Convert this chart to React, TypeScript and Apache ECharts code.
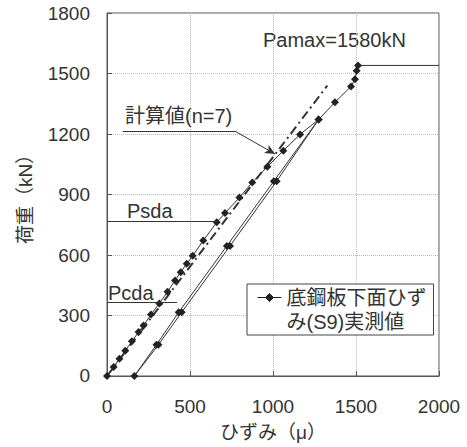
import React, { useEffect, useRef } from "react";
import * as echarts from "echarts";

// Measured strain (μ) vs load (kN) - loading, unloading, reloading, final
const loadStrain = [0, 40, 75, 110, 150, 190, 220, 265, 315, 365, 410, 444, 480, 516, 580, 661, 711, 798, 875, 966, 1062, 1163, 1275];
const loadLoad = [0, 45, 85, 125, 172, 218, 250, 305, 360, 418, 474, 515, 556, 596, 672, 762, 808, 885, 960, 1038, 1117, 1198, 1272];
const unloadStrain = [1275, 1022, 741, 450, 310, 165];
const unloadLoad = [1272, 966, 645, 316, 155, 0];
const reloadStrain = [165, 298, 432, 722, 1005, 1275];
const reloadLoad = [0, 155, 316, 645, 966, 1272];
const finalStrain = [1275, 1373, 1470, 1494, 1504, 1512];
const finalLoad = [1272, 1357, 1436, 1472, 1514, 1540];

// Pamax plateau
const plateauStrain = [1512, 2000];
const plateauLoad = [1540, 1540];

// Calculated value (n=7)
const calcStrain = [0, 1327];
const calcLoad = [0, 1440];

// Reference levels
const pcdaLevel = 368;
const pcdaEnd = 422;
const psdaLevel = 765;
const psdaEnd = 661;
const leaderStart = [96, 1214];
const leaderBend = [771, 1214];
const leaderTip = [1012, 1101];

const xTicks = [0, 500, 1000, 1500, 2000];
const yTicks = [0, 300, 600, 900, 1200, 1500, 1800];

const xAxisName = "ひずみ（μ）";
const yAxisName = "荷重（kN）";
const seriesName = "底鋼板下面ひずみ(S9)実測値";
const legendText = "底鋼板下面ひず\nみ(S9)実測値";

const FONT = "'Liberation Sans', 'Noto Sans CJK JP', sans-serif";
const TXT = "#333333";

function zip(a: number[], b: number[]) {
  return a.map((v, i) => [v, b[i]]);
}

export default function App() {
  const ref = useRef<HTMLDivElement>(null);
  useEffect(() => {
    if (!ref.current) return;
    const chart = echarts.init(ref.current, null, { renderer: "svg" });
    const measured = [
      ...zip(loadStrain, loadLoad),
      ...zip(unloadStrain, unloadLoad).slice(1),
      ...zip(reloadStrain, reloadLoad).slice(1),
      ...zip(finalStrain, finalLoad).slice(1),
    ];
    chart.setOption({
      animation: false,
      backgroundColor: "#fff",
      textStyle: { fontFamily: FONT, color: TXT },
      grid: {
        left: 107,
        right: 28,
        top: 13,
        bottom: 70,
        show: true,
        borderColor: "#555",
        borderWidth: 1,
      },
      xAxis: {
        type: "value",
        min: xTicks[0],
        max: xTicks[xTicks.length - 1],
        interval: 500,
        name: xAxisName,
        nameLocation: "middle",
        nameGap: 47,
        nameTextStyle: { fontSize: 19, color: TXT, fontFamily: FONT },
        axisLine: { lineStyle: { color: "#555" } },
        axisTick: { inside: true, length: 5, lineStyle: { color: "#555" } },
        axisLabel: {
          fontSize: 19,
          color: TXT,
          margin: 21,
          fontFamily: FONT,
          formatter: (v: number) => String(v),
        },
        splitLine: { show: true, lineStyle: { type: "dotted", color: "#bbb" } },
      },
      yAxis: {
        type: "value",
        min: yTicks[0],
        max: yTicks[yTicks.length - 1],
        interval: 300,
        name: yAxisName,
        nameLocation: "middle",
        nameRotate: 90,
        nameGap: 72,
        nameTextStyle: { fontSize: 19, color: TXT, fontFamily: FONT },
        axisLine: { lineStyle: { color: "#555" } },
        axisTick: { inside: true, length: 5, lineStyle: { color: "#555" } },
        axisLabel: {
          fontSize: 19,
          color: TXT,
          margin: 17,
          fontFamily: FONT,
          formatter: (v: number) => String(v),
        },
        splitLine: { show: true, lineStyle: { type: "dotted", color: "#bbb" } },
      },
      legend: {
        data: [seriesName],
        left: 247,
        top: 284,
        orient: "vertical",
        padding: [1, 7, 1, 10],
        borderColor: "#444",
        borderWidth: 1,
        backgroundColor: "#fff",
        itemWidth: 24,
        itemHeight: 48,
        icon: "path://M0,12L24,12M8,12L12,8L16,12L12,16ZM0,0M24,48",
        itemStyle: { color: "#222", borderColor: "#222", borderWidth: 1 },
        formatter: () => legendText,
        textStyle: { fontSize: 20, lineHeight: 24, color: TXT, fontFamily: FONT },
      },
      series: [
        {
          name: "計算値(n=7)",
          type: "line",
          data: zip(calcStrain, calcLoad),
          symbol: "none",
          lineStyle: { color: "#333", width: 2, type: [9, 4, 2, 4] },
          z: 2,
        },
        {
          name: seriesName,
          type: "line",
          data: measured,
          symbol: "diamond",
          symbolSize: 8,
          itemStyle: { color: "#222" },
          lineStyle: { color: "#333", width: 1 },
          z: 3,
        },
        {
          name: "Pamax",
          type: "line",
          data: zip(plateauStrain, plateauLoad),
          symbol: "none",
          lineStyle: { color: "#333", width: 1 },
        },
        {
          name: "annotations",
          type: "line",
          data: [],
          markLine: {
            silent: true,
            symbol: "none",
            label: { show: false },
            lineStyle: { color: "#333", width: 1, type: "solid" },
            data: [
              [{ coord: [0, pcdaLevel] }, { coord: [pcdaEnd, pcdaLevel] }],
              [{ coord: [0, psdaLevel] }, { coord: [psdaEnd, psdaLevel] }],
              [{ coord: leaderStart }, { coord: leaderBend }],
              [
                { coord: leaderBend },
                { coord: leaderTip, symbol: "arrow", symbolSize: [7, 10] },
              ],
            ],
          },
        },
      ],
      graphic: [
        {
          type: "text",
          left: 263,
          top: 30,
          style: { text: "Pamax=1580kN", fontSize: 20, fill: TXT, fontFamily: FONT },
        },
        {
          type: "text",
          left: 125,
          top: 106,
          style: { text: "計算値(n=7)", fontSize: 20, fill: TXT, fontFamily: FONT },
        },
        {
          type: "text",
          left: 127,
          top: 201,
          style: { text: "Psda", fontSize: 20, fill: TXT, fontFamily: FONT },
        },
        {
          type: "text",
          left: 108,
          top: 283,
          style: { text: "Pcda", fontSize: 20, fill: TXT, fontFamily: FONT },
        },
      ],
    });
    return () => chart.dispose();
  }, []);
  return (
    <div
      ref={ref}
      style={{ position: "fixed", left: 0, top: 0, width: 467, height: 447 }}
    />
  );
}
